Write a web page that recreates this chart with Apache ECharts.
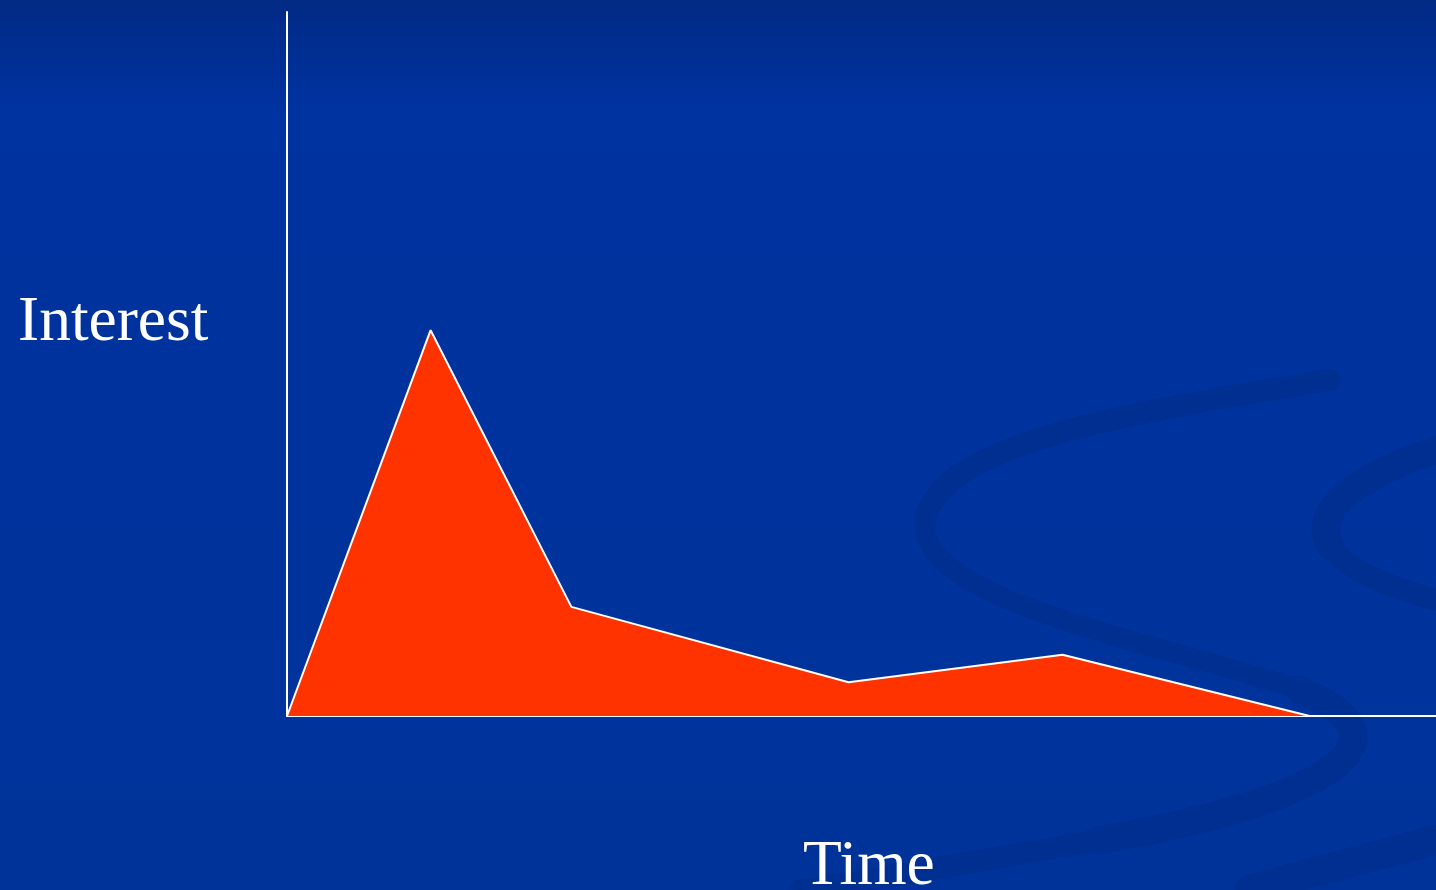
<!DOCTYPE html>
<html>
<head>
<meta charset="utf-8">
<script src="https://cdn.jsdelivr.net/npm/echarts@6/dist/echarts.min.js"></script>
<style>
html,body{margin:0;padding:0;background:#0033a0;}
#chart{width:1436px;height:890px;}
</style>
</head>
<body>
<div id="chart"></div>
<script>
// Data (abstract units)
var timeValues = [0, 1.0, 1.98, 3.91, 5.40, 7.12];
var interestValues = [0, 54.8, 15.5, 4.8, 8.7, 0];
var xMax = 8;
var yMax = 100;
var xTitle = 'Time';
var yTitle = 'Interest';

var chart = echarts.init(document.getElementById('chart'));
var points = timeValues.map(function (t, i) { return [t, interestValues[i]]; });

// decorative background ribbons (slide template)
var swirl = '#002f92';
function curve(s, w) {
  return {type: 'bezierCurve', z: -10, silent: true,
    shape: {x1: s[0], y1: s[1], cpx1: s[2], cpy1: s[3], cpx2: s[4], cpy2: s[5], x2: s[6], y2: s[7]},
    style: {fill: 'none', stroke: swirl, lineWidth: w, lineCap: 'round'}};
}
var ribbons = [
  curve([1330,380, 1150,410, 940,440, 925,520], 22),
  curve([925,520, 915,600, 1150,640, 1300,690], 20),
  curve([1300,690, 1420,740, 1330,800, 1100,840], 28),
  curve([1100,840, 950,865, 850,885, 800,890], 22),
  curve([1436,450, 1360,475, 1310,510, 1330,545], 28),
  curve([1330,545, 1350,575, 1400,590, 1436,600], 22),
  curve([1250,890, 1320,870, 1390,852, 1436,840], 30)
];

chart.setOption({
  backgroundColor: {
    type: 'linear', x: 0, y: 0, x2: 0, y2: 1,
    colorStops: [
      {offset: 0, color: '#002a84'},
      {offset: 0.12, color: '#0032a0'},
      {offset: 1, color: '#00339a'}
    ]
  },
  animation: false,
  grid: {left: 287, right: 0, top: 12, bottom: 174},
  xAxis: {
    type: 'value', min: 0, max: xMax,
    axisLine: {lineStyle: {color: '#ffffff', width: 2}},
    axisTick: {show: false}, axisLabel: {show: false}, splitLine: {show: false}
  },
  yAxis: {
    type: 'value', min: 0, max: yMax,
    axisLine: {show: true, lineStyle: {color: '#ffffff', width: 2}},
    axisTick: {show: false}, axisLabel: {show: false}, splitLine: {show: false}
  },
  graphic: ribbons.concat([
    {type: 'text', left: 18, top: 291,
     style: {text: yTitle, fill: '#ffffff', font: '63.5px "Liberation Serif", "Times New Roman", serif'}},
    {type: 'text', left: 803, top: 835,
     style: {text: xTitle, fill: '#ffffff', font: '63.5px "Liberation Serif", "Times New Roman", serif'}}
  ]),
  series: [{
    type: 'line',
    data: points,
    symbol: 'none',
    lineStyle: {color: '#ffffff', width: 2},
    areaStyle: {color: '#ff3300', opacity: 1},
    z: 1
  }]
});
</script>
</body>
</html>
